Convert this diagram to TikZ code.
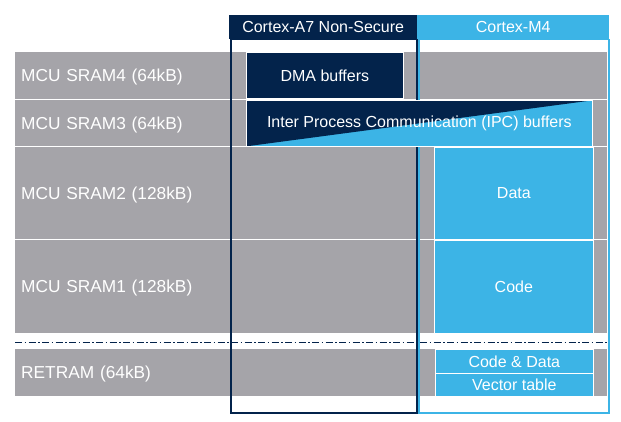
\documentclass[tikz,border=0pt]{standalone}
\usepackage{fontspec}
\setmainfont{Liberation Sans}
\definecolor{stnavy}{HTML}{03234B}
\definecolor{stblue}{HTML}{3CB4E6}
\definecolor{stgray}{HTML}{A5A4A9}

\begin{document}
\begin{tikzpicture}[x=1pt,y=-1pt,font=\fontsize{16}{19}\selectfont,
  row/.style={fill=stgray,text=white,anchor=north west,inner xsep=6pt,inner ysep=0pt,
    text width=580pt,align=left,text depth=0pt,font=\fontsize{17.3}{20}\selectfont},
  box/.style={draw=white,line width=0.7pt,text=white,anchor=north west,inner sep=0pt},
  navybox/.style={box,fill=stnavy},
  bluebox/.style={box,fill=stblue},
  header/.style={text=white,anchor=north west,inner sep=0pt,minimum height=24pt},
  column/.style={anchor=north west,inner sep=0pt,line width=1.5pt,minimum height=373pt}]

  \useasboundingbox (0,0) rectangle (621,422);

  \node[row,minimum height=47pt] (sram4) at (15,52) {MCU SRAM4 (64kB)};
  \node[row,minimum height=46pt] (sram3) at (15,100) {MCU SRAM3 (64kB)};
  \node[row,minimum height=92pt] (sram2) at (15,147) {MCU SRAM2 (128kB)};
  \node[row,minimum height=93pt] (sram1) at (15,240) {MCU SRAM1 (128kB)};
  \node[row,minimum height=47pt] (retram) at (15,349) {RETRAM (64kB)};

  \node[column,draw=stnavy,minimum width=186pt] (colA7) at (230,39) {};
  \node[column,draw=stblue,minimum width=190pt] (colM4) at (418,39) {};

  \draw[stnavy,line width=0.8pt,dash pattern=on 7pt off 2.5pt on 1.5pt off 2.5pt]
    (15,342) -- (607,342);

  \node[navybox,minimum width=157pt,minimum height=46pt] (dma) at (246,52) {DMA buffers};
  \node[bluebox,minimum width=346pt,minimum height=46pt,
    path picture={\fill[stnavy] (path picture bounding box.north west)
      -- (path picture bounding box.north east)
      -- (path picture bounding box.south west) -- cycle;}]
    (ipc) at (246,100) {Inter Process Communication (IPC) buffers};
  \node[bluebox,minimum width=159pt,minimum height=92pt] (data) at (434,147) {Data};
  \node[bluebox,minimum width=159pt,minimum height=93pt] (code) at (434,240) {Code};
  \node[bluebox,minimum width=158pt,minimum height=24pt] (codedata) at (435,349) {Code \& Data};
  \node[bluebox,minimum width=158pt,minimum height=23pt] (vectors) at (435,373) {Vector table};

  \node[header,fill=stnavy,minimum width=188pt] (hA7) at (229,15) {Cortex-A7 Non-Secure};
  \node[header,fill=stblue,minimum width=192pt] (hM4) at (417,15) {Cortex-M4};
\end{tikzpicture}
\end{document}
